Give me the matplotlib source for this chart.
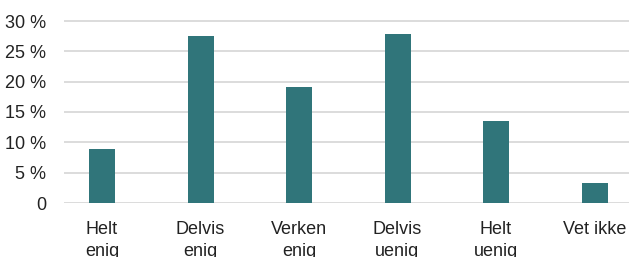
import matplotlib
matplotlib.use("Agg")
import matplotlib.pyplot as plt

categories = ["Helt\nenig", "Delvis\nenig", "Verken\nenig", "Delvis\nuenig", "Helt\nuenig", "Vet ikke"]
values = [8.9, 27.5, 19.1, 27.8, 13.5, 3.3]
yticks = [0, 5, 10, 15, 20, 25, 30]
ytick_labels = ["0", "5 %", "10 %", "15 %", "20 %", "25 %", "30 %"]

plt.rcParams['font.family'] = ['Liberation Sans', 'DejaVu Sans']

fig = plt.figure(figsize=(6.29, 2.57), dpi=100)
W, H = 629, 257
left_px, right_px = 64, 629
y0_px, y30_px = 203, 21
top_val = 30.3
ppu = (y0_px - y30_px) / 30.0
top_px = y0_px - top_val * ppu
ax = fig.add_axes([left_px / W, (H - y0_px) / H, (right_px - left_px) / W, (y0_px - top_px) / H])

spacing = 98.5
first_center = 102
xmin = (left_px - first_center) / spacing
xmax = (right_px - first_center) / spacing

x = list(range(len(categories)))
ax.bar(x, values, width=26 / spacing, color="#30757a", zorder=3)
ax.set_xlim(xmin, xmax)
ax.set_ylim(0, top_val)
ax.set_yticks(yticks)
ax.set_yticklabels(ytick_labels)
ax.set_xticks(x)
ax.set_xticklabels(categories, linespacing=1.4)
ax.grid(axis="y", color="#d9d9d9", linewidth=1.3, zorder=0)
for s in ax.spines.values():
    s.set_visible(False)
ax.tick_params(axis="both", length=0, labelsize=13, colors="#222222")
ax.tick_params(axis="y", pad=13)
ax.tick_params(axis="x", pad=13)

fig.savefig("out.png", dpi=100)
